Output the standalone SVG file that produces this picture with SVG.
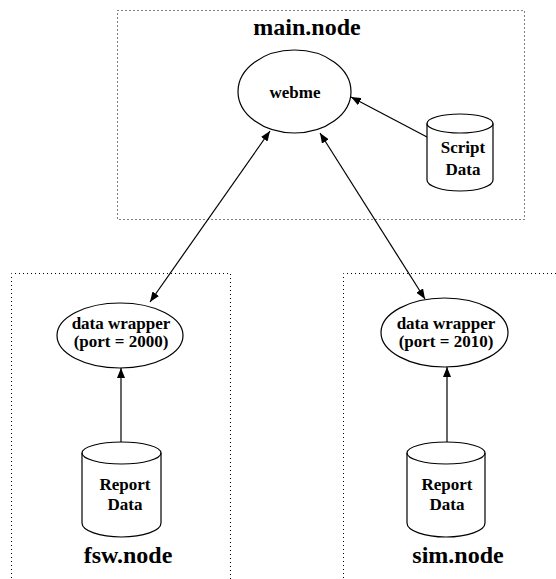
<svg xmlns="http://www.w3.org/2000/svg" width="556" height="579" viewBox="0 0 556 579">
<style>
.box{fill:none;stroke:#000;stroke-width:1;stroke-dasharray:1 3}
.shape{fill:#fff;stroke:#000;stroke-width:1.2}
.edge{fill:none;stroke:#000;stroke-width:1.2}
.lbl{font-family:"Liberation Serif",serif;font-weight:bold;font-size:17px;text-anchor:middle;fill:#000}
.title{font-family:"Liberation Serif",serif;font-weight:bold;font-size:24px;text-anchor:middle;fill:#000}
</style>
<defs>
<marker id="ah" viewBox="0 0 10 8" refX="10" refY="4" markerWidth="10" markerHeight="8" markerUnits="userSpaceOnUse" orient="auto-start-reverse">
<path d="M0,0 L10,4 L0,8 z" fill="#000"/>
</marker>
</defs>
<g id="main-node">
<rect class="box" x="117.5" y="10.5" width="407" height="209"/>
<text class="title" x="307" y="35">main.node</text>
</g>
<g id="fsw-node">
<path class="box" d="M11.5,590 V273.5 H230.5 V590"/>
<text class="title" x="128" y="563">fsw.node</text>
</g>
<g id="sim-node">
<path class="box" d="M343.5,590 V273.5 H570"/>
<text class="title" x="458" y="563">sim.node</text>
</g>
<g id="webme">
<ellipse class="shape" cx="294.5" cy="91.5" rx="56.5" ry="41.5"/>
<text class="lbl" x="295" y="98">webme</text>
</g>
<g id="script-data">
<path class="shape" d="M427,123.5 A33,9.5 0 0 1 493,123.5 V180 A33,11 0 0 1 427,180 Z"/>
<path class="edge" d="M427,123.5 A33,9.5 0 0 0 493,123.5"/>
<text class="lbl" x="463" y="153">Script</text>
<text class="lbl" x="463" y="175">Data</text>
</g>
<g id="fsw-wrapper">
<ellipse class="shape" cx="120" cy="335.5" rx="63" ry="32.5"/>
<text class="lbl" x="121" y="329">data wrapper</text>
<text class="lbl" x="121" y="347">(port = 2000)</text>
</g>
<g id="fsw-report">
<path class="shape" d="M82,453 A39.5,11 0 0 1 161,453 V523 A39.5,14 0 0 1 82,523 Z"/>
<path class="edge" d="M82,453 A39.5,11 0 0 0 161,453"/>
<text class="lbl" x="125" y="490">Report</text>
<text class="lbl" x="125" y="510">Data</text>
</g>
<g id="sim-wrapper">
<ellipse class="shape" cx="444.5" cy="332.5" rx="63.5" ry="34.5"/>
<text class="lbl" x="446" y="329">data wrapper</text>
<text class="lbl" x="446" y="347">(port = 2010)</text>
</g>
<g id="sim-report">
<path class="shape" d="M407,453 A39,11 0 0 1 485,453 V523 A39,14 0 0 1 407,523 Z"/>
<path class="edge" d="M407,453 A39,11 0 0 0 485,453"/>
<text class="lbl" x="447" y="490">Report</text>
<text class="lbl" x="447" y="510">Data</text>
</g>
<g id="connectors">
<line class="edge" x1="427" y1="137" x2="351" y2="97" marker-end="url(#ah)"/>
<line class="edge" x1="150" y1="302" x2="270" y2="131" marker-start="url(#ah)" marker-end="url(#ah)"/>
<line class="edge" x1="425" y1="299" x2="320" y2="133" marker-start="url(#ah)" marker-end="url(#ah)"/>
<line class="edge" x1="121" y1="442" x2="121" y2="368" marker-end="url(#ah)"/>
<line class="edge" x1="447" y1="442" x2="447" y2="367" marker-end="url(#ah)"/>
</g>
</svg>
